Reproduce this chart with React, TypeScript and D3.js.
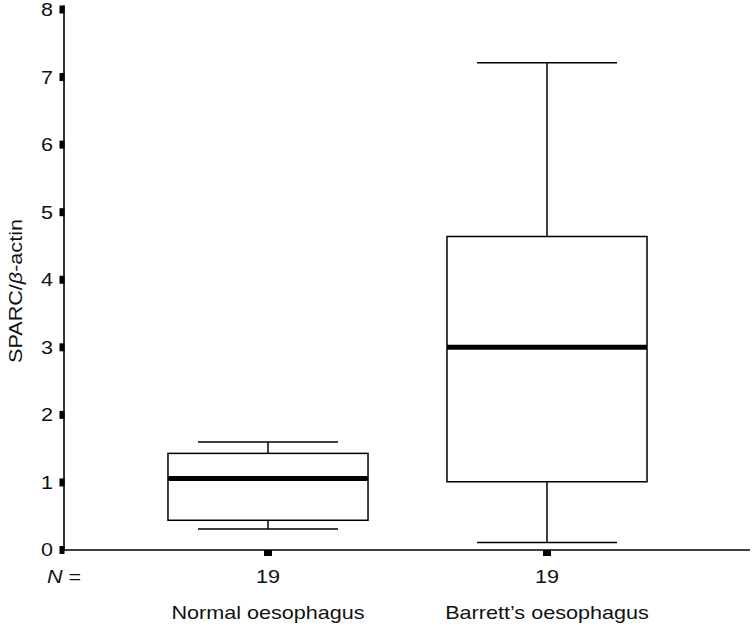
import React from "react";
import * as d3 from "d3";

const categories = ["Normal oesophagus", "Barrett\u2019s oesophagus"];
const counts = [19, 19];
const whiskerLow = [0.31, 0.11];
const q1 = [0.44, 1.01];
const median = [1.06, 3.0];
const q3 = [1.43, 4.64];
const whiskerHigh = [1.6, 7.21];
const yTicks = [0, 1, 2, 3, 4, 5, 6, 7, 8];

const W = 752;
const H = 629;
const FONT = "'Liberation Sans', Arial, Helvetica, sans-serif";
const FS = 18;
const SX = 1.2;

function T(props: { x: number; y: number; anchor?: string; dy?: string; children: React.ReactNode; rotate?: number }) {
  const { x, y, anchor = "start", dy, children, rotate = 0 } = props;
  return (
    <text
      transform={`translate(${x},${y}) rotate(${rotate}) scale(${SX},1)`}
      textAnchor={anchor}
      dy={dy}
      fontFamily={FONT}
      fontSize={FS}
      fill="#111"
    >
      {children}
    </text>
  );
}

export default function App() {
  const y = d3.scaleLinear().domain([0, 8]).range([550, 9.5]);
  const x = d3.scaleBand<string>().domain(categories).range([128.5, 686.5]).padding(0);
  const axisX = 64;
  const axisEnd = 750;
  const boxW = x.bandwidth() * 0.717;
  const capW = boxW * 0.7;
  const cx = (c: string) => (x(c) as number) + x.bandwidth() / 2;

  return (
    <svg width={W} height={H} style={{ position: "absolute", left: 0, top: 0, background: "#fff" }}>
      <rect width={W} height={H} fill="#fff" />
      {/* y axis */}
      <line x1={axisX} x2={axisX} y1={y(8) - 4} y2={y(0) + 1} stroke="#000" strokeWidth={1.6} />
      {yTicks.map((t) => (
        <g key={t}>
          <rect x={axisX - 4.5} y={y(t) - 4} width={5} height={8} fill="#000" />
          <T x={axisX - 11} y={y(t)} dy="0.36em" anchor="end">
            {t}
          </T>
        </g>
      ))}
      {/* x axis */}
      <line x1={axisX} x2={axisEnd} y1={y(0)} y2={y(0)} stroke="#000" strokeWidth={1.6} />
      {categories.map((c, i) => {
        const xc = cx(c);
        return (
          <g key={c}>
            <rect x={xc - 4} y={y(0)} width={8} height={6} fill="#000" />
            <line x1={xc} x2={xc} y1={y(whiskerHigh[i])} y2={y(q3[i])} stroke="#000" strokeWidth={1.5} />
            <line x1={xc} x2={xc} y1={y(q1[i])} y2={y(whiskerLow[i])} stroke="#000" strokeWidth={1.5} />
            <line x1={xc - capW / 2} x2={xc + capW / 2} y1={y(whiskerHigh[i])} y2={y(whiskerHigh[i])} stroke="#000" strokeWidth={1.5} />
            <line x1={xc - capW / 2} x2={xc + capW / 2} y1={y(whiskerLow[i])} y2={y(whiskerLow[i])} stroke="#000" strokeWidth={1.5} />
            <rect
              x={xc - boxW / 2}
              y={y(q3[i])}
              width={boxW}
              height={y(q1[i]) - y(q3[i])}
              fill="#fff"
              stroke="#000"
              strokeWidth={1.5}
            />
            <line x1={xc - boxW / 2} x2={xc + boxW / 2} y1={y(median[i])} y2={y(median[i])} stroke="#000" strokeWidth={5} />
            <T x={xc} y={583} anchor="middle">
              {counts[i]}
            </T>
            <T x={xc} y={619} anchor="middle">
              {c}
            </T>
          </g>
        );
      })}
      <T x={47} y={583}>
        <tspan fontStyle="italic">N</tspan>
        <tspan> =</tspan>
      </T>
      <T x={22} y={291} anchor="middle" rotate={-90}>
        SPARC/<tspan fontStyle="italic">β</tspan>-actin
      </T>
    </svg>
  );
}
